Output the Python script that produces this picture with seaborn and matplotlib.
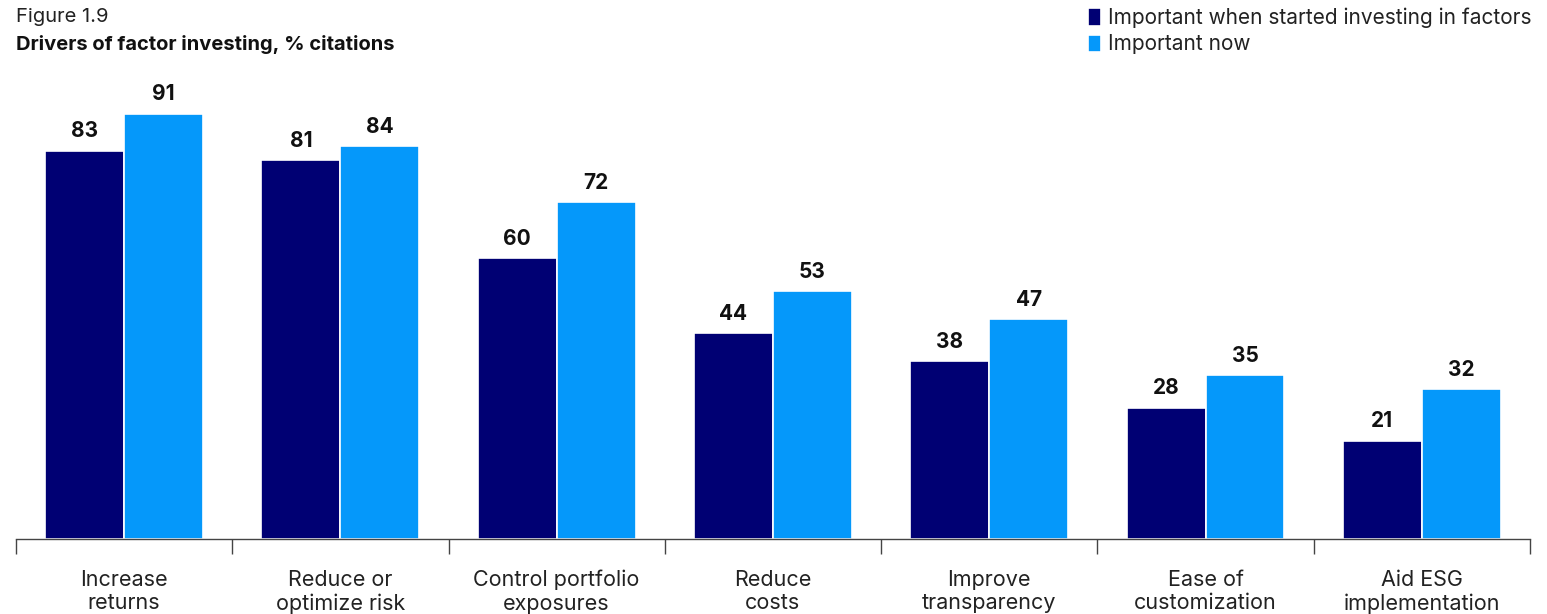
import pandas as pd
import matplotlib.pyplot as plt
import seaborn as sns

categories = [
    "Increase\nreturns",
    "Reduce or\noptimize risk",
    "Control portfolio\nexposures",
    "Reduce\ncosts",
    "Improve\ntransparency",
    "Ease of\ncustomization",
    "Aid ESG\nimplementation",
]
started = [83, 81, 60, 44, 38, 28, 21]
now = [91, 84, 72, 53, 47, 35, 32]
series_names = ["Important when started investing in factors", "Important now"]

DARK = "#000073"
LIGHT = "#0598FA"

sns.set_style("white")
plt.rcParams["font.family"] = ["Inter", "DejaVu Sans"]

df = pd.DataFrame({
    "Driver": categories * 2,
    "Series": [series_names[0]] * len(categories) + [series_names[1]] * len(categories),
    "Value": started + now,
})

fig = plt.figure(figsize=(15.47, 6.14), dpi=100)
ax = fig.add_axes([0.0103, 0.1221, 0.9787, 0.7615])

sns.barplot(
    data=df, x="Driver", y="Value", hue="Series",
    palette=[DARK, LIGHT], width=0.73, edgecolor="white", linewidth=1.2,
    saturation=1, ax=ax, legend=True
)

for container in ax.containers:
    ax.bar_label(container, fmt="%d", padding=7, fontsize=15,
                 fontweight="bold", color="#111111")

ax.set_ylim(0, 100)
ax.set_xlim(-0.5, len(categories) - 0.5)
ax.set_xlabel("")
ax.set_ylabel("")
ax.set_yticks([])

# boundary ticks between categories
ax.set_xticks([i - 0.5 for i in range(len(categories) + 1)], minor=True)
ax.tick_params(axis="x", which="minor", length=11, width=1, color="#444444",
               direction="out", bottom=True)
ax.tick_params(axis="x", which="major", length=0, pad=22, labelsize=15.5,
               labelcolor="#222222")
for lab in ax.get_xticklabels():
    lab.set_linespacing(1.22)

for side in ["top", "right", "left"]:
    ax.spines[side].set_visible(False)
ax.spines["bottom"].set_color("#444444")
ax.spines["bottom"].set_linewidth(1)

handles, labels = ax.get_legend_handles_labels()
ax.get_legend().remove()
fig.legend(handles, labels, loc="upper right", bbox_to_anchor=(0.998, 1.008),
           frameon=False, fontsize=15, handlelength=0.6, handleheight=0.9,
           handletextpad=0.35, labelspacing=0.3, borderaxespad=0.2,
           labelcolor="#222222")

fig.text(0.0103, 0.972, "Figure 1.9", fontsize=14.5, color="#222222", va="center")
fig.text(0.0103, 0.928, "Drivers of factor investing, % citations", fontsize=14.5,
         fontweight="bold", color="#111111", va="center")

fig.savefig("out.png", dpi=100)
